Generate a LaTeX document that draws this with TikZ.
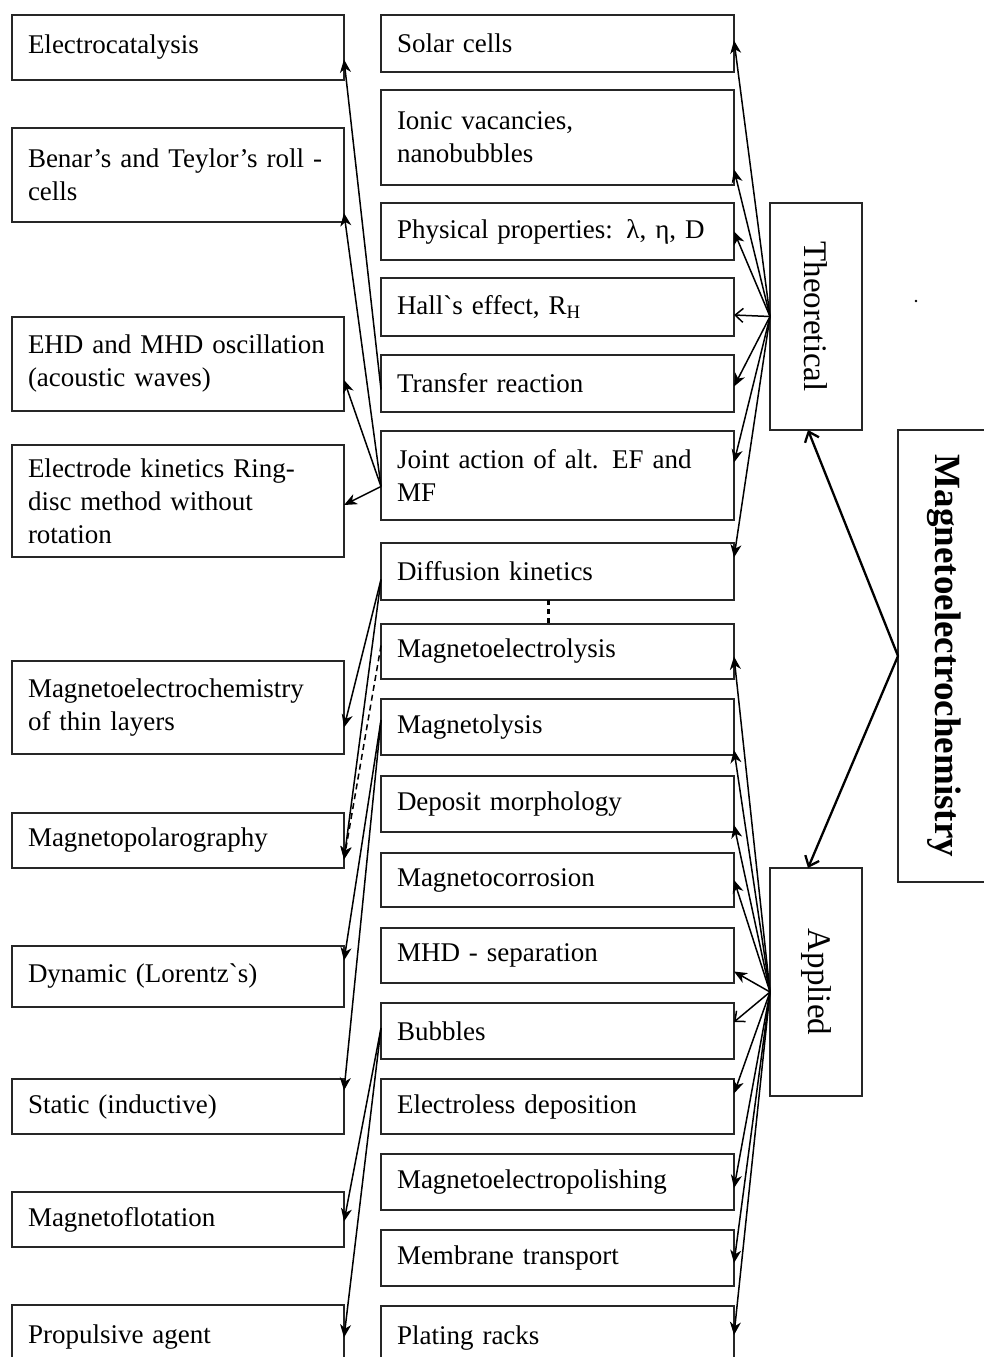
\documentclass[tikz,border=0pt]{standalone}
\usepackage{fontspec}
\setmainfont{Liberation Serif}
\usepackage{graphicx}
\usetikzlibrary{arrows.meta}
\tikzset{
	box/.style={draw=black!85, line width=1.6pt, anchor=north west, inner xsep=16pt, inner ysep=0pt, outer sep=0pt, align=left, font=\fontsize{27}{33}\selectfont},
	lbox/.style={box, text width=300pt},
	mbox/.style={box, text width=321pt},
	sbox/.style={draw=black!85, line width=1.6pt, outer sep=0pt, minimum width=92pt, font=\fontsize{33}{38}\selectfont},
	arr/.style={line width=1.5pt, -{Stealth[length=13pt,width=11pt,inset=4pt]}},
	barb/.style={line width=1.5pt, -{Straight Barb[length=8pt,width=14pt]}},
	main/.style={line width=2.3pt, -{Straight Barb[length=9pt,width=15pt]}},
}
\begin{document}
\begin{tikzpicture}[x=1pt,y=-1pt]
	\useasboundingbox (0,0) rectangle (984,1357);
	\node[lbox, minimum height=65pt] (elcat) at (12,15) {Electrocatalysis};
	\node[lbox, minimum height=94pt] (benar) at (12,128) {Benar's and Teylor's roll -\\cells};
	\node[lbox, minimum height=94pt] (ehd) at (12,317) {EHD and MHD oscillation\\(acoustic waves)};
	\node[lbox, minimum height=112pt] (elkin) at (12,445) {Electrode kinetics Ring-\\disc method without\\rotation};
	\node[lbox, minimum height=93pt] (thin) at (12,661) {Magnetoelectrochemistry\\of thin layers};
	\node[lbox, minimum height=55pt] (mpol) at (12,813) {Magnetopolarography};
	\node[lbox, minimum height=61pt] (dyn) at (12,946) {Dynamic (Lorentz\textasciigrave s)};
	\node[lbox, minimum height=55pt] (stat) at (12,1079) {Static (inductive)};
	\node[lbox, minimum height=55pt] (mflot) at (12,1192) {Magnetoflotation};
	\node[lbox, minimum height=65pt] (prop) at (12,1305) {Propulsive agent};
	\node[mbox, minimum height=57pt] (solar) at (381,15) {Solar cells};
	\node[mbox, minimum height=95pt] (ionic) at (381,90) {Ionic vacancies,\\nanobubbles};
	\node[mbox, minimum height=57pt] (phys) at (381,203) {Physical properties: λ, η, D};
	\node[mbox, minimum height=58pt] (hall) at (381,278) {Hall\textasciigrave s effect, R\textsubscript{H}};
	\node[mbox, minimum height=57pt] (trans) at (381,355) {Transfer reaction};
	\node[mbox, minimum height=89pt] (joint) at (381,431) {Joint action of alt. EF and\\MF};
	\node[mbox, minimum height=57pt] (diff) at (381,543) {Diffusion kinetics};
	\node[mbox, minimum height=55pt] (melys) at (381,624) {Magnetoelectrolysis};
	\node[mbox, minimum height=56pt] (mlys) at (381,699) {Magnetolysis};
	\node[mbox, minimum height=56pt] (depo) at (381,776) {Deposit morphology};
	\node[mbox, minimum height=54pt] (mcorr) at (381,853) {Magnetocorrosion};
	\node[mbox, minimum height=55pt] (mhd) at (381,928) {MHD - separation};
	\node[mbox, minimum height=56pt] (bub) at (381,1003) {Bubbles};
	\node[mbox, minimum height=55pt] (eless) at (381,1079) {Electroless deposition};
	\node[mbox, minimum height=56pt] (polish) at (381,1154) {Magnetoelectropolishing};
	\node[mbox, minimum height=56pt] (memb) at (381,1230) {Membrane transport};
	\node[mbox, minimum height=64pt] (plat) at (381,1306) {Plating racks};
	\node[sbox, minimum height=227pt] (theo) at (816,316.5) {\rotatebox{-90}{Theoretical}};
	\node[sbox, minimum height=228pt] (appl) at (816,982) {\rotatebox{-90}{Applied}};
	\node[sbox, minimum height=452pt, font=\bfseries\fontsize{37}{44}\selectfont] (magn) at (944,656) {\rotatebox{-90}{Magnetoelectrochemistry}};
	\fill (916,301) circle (1.3pt);
	\draw[main] (magn.west) -- ([xshift=-8pt]theo.south);
	\draw[main] (magn.west) -- ([xshift=-8pt]appl.north);
	\foreach \b/\s in {solar/3, ionic/-32, phys/0, trans/-3, joint/13, diff/14} {
		\draw[arr] (theo.west) -- ([yshift=\s pt]\b.east);
	}
	\draw[barb] (theo.west) -- ([yshift=-8pt]hall.east);
	\foreach \b/\s in {melys/-5, mlys/-23, depo/-21, mcorr/0, mhd/-16, eless/13, polish/-6, memb/-5, plat/3} {
		\draw[arr] ([yshift=-10pt]appl.west) -- ([yshift=\s pt]\b.east);
	}
	\draw[barb] ([yshift=-10pt]appl.west) -- ([yshift=9pt]bub.east);
	\draw[arr] ([yshift=-6pt]trans.west) -- ([yshift=-12pt]elcat.east);
	\foreach \b/\s in {benar/-38, ehd/-16, elkin/-4} {
		\draw[arr] ([yshift=-11pt]joint.west) -- ([yshift=\s pt]\b.east);
	}
	\foreach \b/\s in {thin/-20, mpol/-19} {
		\draw[arr] ([yshift=-8pt]diff.west) -- ([yshift=\s pt]\b.east);
	}
	\draw[arr, dash pattern=on 6pt off 4pt] ([yshift=6pt]melys.west) -- ([yshift=-19pt]mpol.east);
	\foreach \b/\s in {dyn/16, stat/16} {
		\draw[arr] ([yshift=7pt]mlys.west) -- ([yshift=\s pt]\b.east);
	}
	\foreach \b/\s in {mflot/-2, prop/0} {
		\draw[arr] ([yshift=3pt]bub.west) -- ([yshift=\s pt]\b.east);
	}
	\draw[line width=3pt, dash pattern=on 5pt off 4pt] ([xshift=-9pt]diff.south) -- ([xshift=-9pt]melys.north);
\end{tikzpicture}
\end{document}
